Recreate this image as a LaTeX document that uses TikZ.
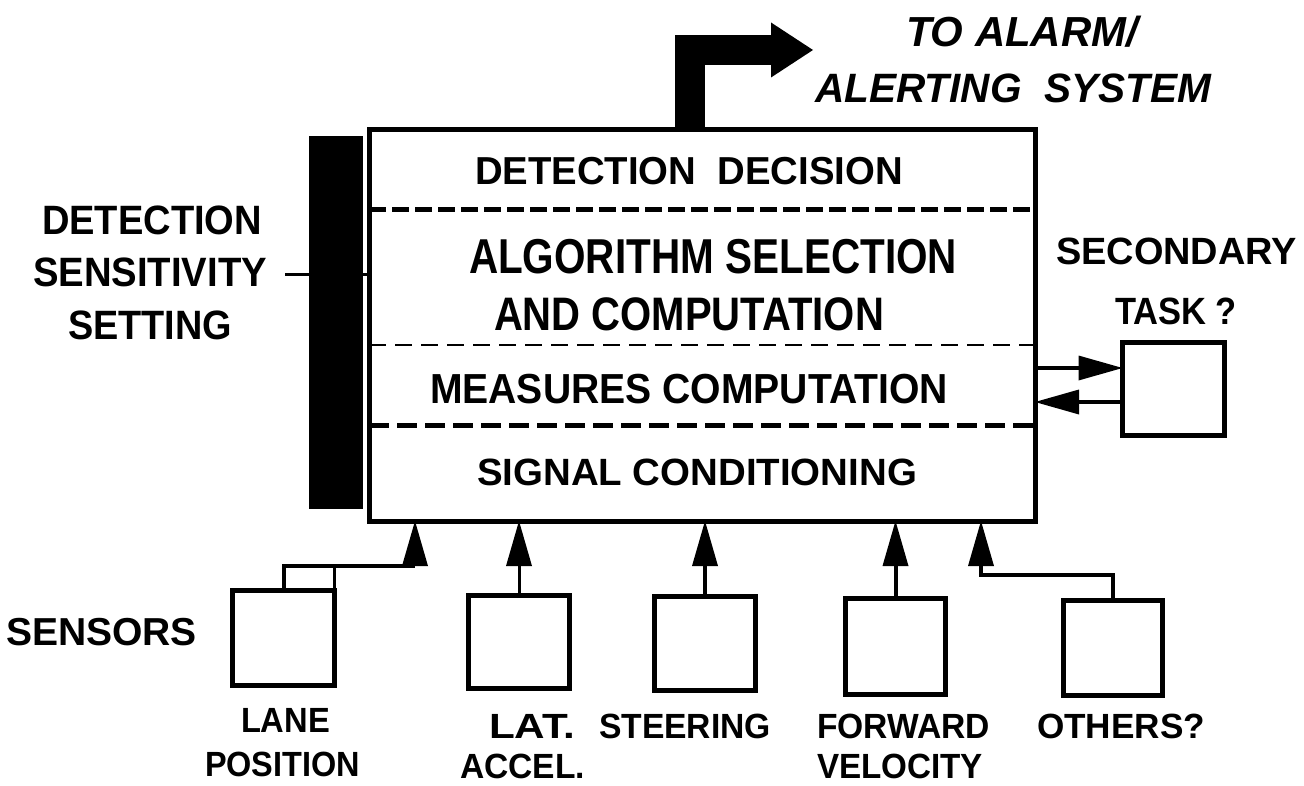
\documentclass[tikz,border=0pt]{standalone}
\usepackage{fontspec}
\setmainfont{Liberation Sans}
\usepackage{graphicx}
\usetikzlibrary{arrows.meta,calc}

% bold sans at a given size, and a label squeezed to a given width
\newcommand\fz[1]{\fontsize{#1}{#1}\selectfont\bfseries}
\newcommand\fw[2]{\resizebox{#1pt}{\height}{#2}}

\begin{document}
\begin{tikzpicture}[x=1pt,y=-1pt,
  lbl/.style={anchor=base west, inner sep=0pt, outer sep=0pt},
  blockbox/.style={draw, line width=4.5pt, inner sep=0pt, outer sep=0pt},
  sensorbox/.style={blockbox, minimum width=101pt, minimum height=95pt},
  wire/.style={line width=4pt},
  thinwire/.style={line width=3pt},
  inarrow/.style={wire, -{Triangle[length=45pt 0 0, width=26pt 0 0, line width=0pt]}},
  sidearrow/.style={wire, -{Triangle[length=44pt 0 0, width=25pt 0 0, line width=0pt]}},
  divthick/.style={line width=5pt, dash pattern=on 17pt off 6pt},
  divthin/.style={line width=2pt, dash pattern=on 17pt off 9pt},
  divthicker/.style={line width=5pt, dash pattern=on 20pt off 8pt},
]
\fill[white] (0,0) rectangle (1304,786);
\useasboundingbox (0,0) rectangle (1304,786);

% processing block with its layers
\node[blockbox, line width=5pt, anchor=north west, minimum width=666pt, minimum height=391pt] (main) at (369,130) {};
\draw[divthick] ([yshift=-80pt]main.north west) -- ([yshift=-80pt]main.north east);
\draw[divthin] ([yshift=-215pt]main.north west) -- ([xshift=8pt,yshift=-215pt]main.north east);
\draw[divthicker] ([yshift=-295pt]main.north west) -- ([yshift=-295pt]main.north east);

% sensitivity setting bar
\node[fill=black, inner sep=0pt, outer sep=0pt, minimum width=54pt, minimum height=373pt, anchor=north west] (bar) at (309,136) {};
\coordinate (tk) at (285,275);
\draw[line width=3pt] (tk) -- (tk -| bar.west);
\draw[line width=3pt] (tk -| bar.east) -- (tk -| main.west);

% output to the alarm
\coordinate (alarm) at (813,50);
\draw[line width=30pt, -{Triangle[length=42pt 0 0, width=55pt 0 0, line width=0pt]}] ([xshift=-12pt]main.north) |- (alarm);

% secondary task
\node[blockbox, minimum width=102pt, minimum height=93pt] (sec) at (1173.5,389) {};
\coordinate (s1) at ($(sec.west)+(0,21pt)$);
\coordinate (s2) at ($(sec.west)+(0,-13pt)$);
\draw[sidearrow] (main.east |- s1) -- (s1);
\draw[sidearrow] (s2) -- (main.east |- s2);

% sensors
\node[sensorbox, minimum width=102pt, minimum height=95pt] (lane) at (283.5,638) {};
\node[sensorbox, minimum width=101pt, minimum height=93pt] (lat) at (519,642) {};
\node[sensorbox, minimum width=101pt, minimum height=94pt] (steer) at (705,643.5) {};
\node[sensorbox, minimum width=100pt, minimum height=96pt] (fwd) at (895.5,646.5) {};
\node[sensorbox, minimum width=99pt, minimum height=95pt] (oth) at (1113,648) {};

\coordinate (lanejoint) at (415,566);
\draw[inarrow] (lane.north) |- (lanejoint) -- (lanejoint |- main.south);
\draw[thinwire] (lane.north east) -- (lane.north east |- lanejoint);
\draw[inarrow, thinwire] (lat.north) -- (lat.north |- main.south);
\draw[inarrow] (steer.north) -- (steer.north |- main.south);
\draw[inarrow] (fwd.north) -- (fwd.north |- main.south);
\coordinate (othjoint) at (981,575);
\draw[inarrow] (oth.north) |- (othjoint) -- (othjoint |- main.south);

% texts
\node[lbl, font={\fz{42}\itshape}] (tto) at (906,47) {\fw{232}{TO ALARM/}};
\node[lbl, font={\fz{41}\itshape}] (tal) at (815,103) {\fw{396}{ALERTING\ \ SYSTEM}};
\node[lbl, font=\fz{39}] (tdd) at (475,185) {\fw{428}{DETECTION\ \ DECISION}};
\node[lbl, font=\fz{49}] (talg1) at (469,274) {\fw{488}{ALGORITHM SELECTION}};
\node[lbl, font=\fz{47}] (talg2) at (494,331) {\fw{390}{AND COMPUTATION}};
\node[lbl, font=\fz{42}] (tmc) at (430,403) {\fw{518}{MEASURES COMPUTATION}};
\node[lbl, font=\fz{38}] (tsc) at (477,485) {\fw{440}{SIGNAL CONDITIONING}};
\node[lbl, font=\fz{38}] (tsec1) at (1056,265) {\fw{241}{SECONDARY}};
\node[lbl, font=\fz{38}] (tsec2) at (1115,325) {\fw{122}{TASK ?}};
\node[lbl, font=\fz{41}] (tds1) at (42,235) {\fw{220}{DETECTION}};
\node[lbl, font=\fz{41}] (tds2) at (33,287) {\fw{234}{SENSITIVITY}};
\node[lbl, font=\fz{41}] (tds3) at (68,340) {\fw{164}{SETTING}};
\node[lbl, font=\fz{39}] (tsens) at (6,645) {\fw{191}{SENSORS}};
\node[lbl, font=\fz{35}] (tlane1) at (241,732) {\fw{89}{LANE}};
\node[lbl, font=\fz{35}] (tlane2) at (205,776) {\fw{155}{POSITION}};
\node[lbl, font=\fz{35}] (tlat1) at (489,738) {\fw{86}{LAT.}};
\node[lbl, font=\fz{35}] (tlat2) at (460,778) {\fw{125}{ACCEL.}};
\node[lbl, font=\fz{35}] (tsteer) at (599,738) {\fw{172}{STEERING}};
\node[lbl, font=\fz{35}] (tfwd1) at (817,738) {\fw{173}{FORWARD}};
\node[lbl, font=\fz{35}] (tfwd2) at (817,778) {\fw{166}{VELOCITY}};
\node[lbl, font=\fz{35}] (toth) at (1037,738) {\fw{168}{OTHERS?}};
\end{tikzpicture}
\end{document}
